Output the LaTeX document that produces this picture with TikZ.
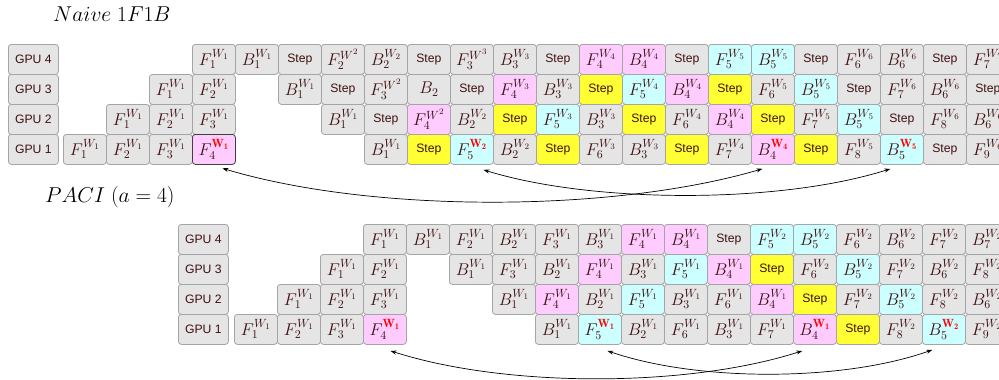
\RequirePackage{fix-cm}
\documentclass[tikz,border=0pt]{standalone}
\usepackage{fontspec}
\setsansfont{Liberation Sans}
\usetikzlibrary{arrows.meta}
\definecolor{txt}{RGB}{64,16,16}
\definecolor{cgray}{RGB}{229,229,229}
\definecolor{cbord}{RGB}{165,165,165}
\definecolor{cpink}{RGB}{255,204,255}
\definecolor{ccyan}{RGB}{204,255,255}
\definecolor{cyel}{RGB}{255,255,51}
\newcommand\mathsz{\fontsize{17}{20}\selectfont}
\newcommand\sfsz{\sffamily\fontsize{12.2}{14}\selectfont}
\newcommand\rw[1]{\textcolor{red}{\mathbf{W}_{\mathbf{#1}}}}
\newcommand\Fw[2]{$F_{#1}^{W_{#2}}$}
\newcommand\Bw[2]{$B_{#1}^{W_{#2}}$}
\newcommand\cT[4][]{\node[cell,#1] (T-#2-#3) at ({63+43*#2},{44+30*#3}) {#4};}
\newcommand\cP[4][]{\node[cell,#1] (P-#2-#3) at ({234+43*#2},{224+30*#3}) {#4};}
\tikzset{
  cell/.style={draw=cbord, fill=cgray, rounded corners=3pt, minimum width=43pt,
    minimum height=30pt, inner sep=0pt, anchor=north west, text=txt, font=\mathsz, line width=0.8pt},
  pk/.style={fill=cpink}, cy/.style={fill=ccyan}, yl/.style={fill=cyel},
  stp/.style={font=\sfsz},
  gpulab/.style={cell, minimum width=50pt, font=\sfsz},
  arr/.style={{Stealth[length=6pt,width=4pt]}-{Stealth[length=6pt,width=4pt]}, line width=0.7pt, black},
  ttl/.style={anchor=base west, inner sep=0pt, font=\fontsize{21.5}{24}\selectfont}
}
\begin{document}
\begin{tikzpicture}[x=1pt,y=-1pt]
\path[use as bounding box] (0,0) rectangle (999,380);
\clip (0,0) rectangle (999,380);
% titles
\node[ttl] (tnaive) at (53,21) {$Naive\;1F1B$};
\node[ttl] (tpaci) at (45,202) {$PACI\;(a=4)$};
% ---------- Naive ----------
\foreach \r/\g in {0/4,1/3,2/2,3/1}{\node[gpulab] (TG-\r) at (8,{44+30*\r}) {GPU \g};}
% row 0 GPU4
\cT{3}{0}{\Fw11}\cT{4}{0}{\Bw11}\cT[stp]{5}{0}{Step}
\cT{6}{0}{$F_2^{W^2}$}\cT{7}{0}{\Bw22}\cT[stp]{8}{0}{Step}
\cT{9}{0}{$F_3^{W^3}$}\cT{10}{0}{\Bw33}\cT[stp]{11}{0}{Step}
\cT[pk]{12}{0}{\Fw44}\cT[pk]{13}{0}{\Bw44}\cT[stp]{14}{0}{Step}
\cT[cy]{15}{0}{\Fw55}\cT[cy]{16}{0}{\Bw55}\cT[stp]{17}{0}{Step}
\cT{18}{0}{\Fw66}\cT{19}{0}{\Bw66}\cT[stp]{20}{0}{Step}
\cT{21}{0}{\Fw77}
% row 1 GPU3
\cT{2}{1}{\Fw11}\cT{3}{1}{\Fw21}\cT{5}{1}{\Bw11}\cT[stp]{6}{1}{Step}
\cT{7}{1}{$F_3^{W^2}$}\cT{8}{1}{$B_2$}\cT[stp]{9}{1}{Step}
\cT[pk]{10}{1}{\Fw43}\cT{11}{1}{\Bw33}\cT[stp,yl]{12}{1}{Step}
\cT[cy]{13}{1}{\Fw54}\cT[pk]{14}{1}{\Bw44}\cT[stp,yl]{15}{1}{Step}
\cT{16}{1}{\Fw65}\cT[cy]{17}{1}{\Bw55}\cT[stp]{18}{1}{Step}
\cT{19}{1}{\Fw76}\cT{20}{1}{\Bw66}\cT[stp]{21}{1}{Step}
% row 2 GPU2
\cT{1}{2}{\Fw11}\cT{2}{2}{\Fw21}\cT{3}{2}{\Fw31}
\cT{6}{2}{\Bw11}\cT[stp]{7}{2}{Step}\cT[pk]{8}{2}{$F_4^{W^2}$}\cT{9}{2}{\Bw22}
\cT[stp,yl]{10}{2}{Step}\cT[cy]{11}{2}{\Fw53}\cT{12}{2}{\Bw33}\cT[stp,yl]{13}{2}{Step}
\cT{14}{2}{\Fw64}\cT[pk]{15}{2}{\Bw44}\cT[stp,yl]{16}{2}{Step}
\cT{17}{2}{\Fw75}\cT[cy]{18}{2}{\Bw55}\cT[stp]{19}{2}{Step}
\cT{20}{2}{\Fw86}\cT{21}{2}{\Bw66}
% row 3 GPU1
\cT{0}{3}{\Fw11}\cT{1}{3}{\Fw21}\cT{2}{3}{\Fw31}
\cT[pk,draw=black!75]{3}{3}{$F_4^{\rw1}$}
\cT{7}{3}{\Bw11}\cT[stp,yl]{8}{3}{Step}\cT[cy]{9}{3}{$F_5^{\rw2}$}\cT{10}{3}{\Bw22}
\cT[stp,yl]{11}{3}{Step}\cT{12}{3}{\Fw63}\cT{13}{3}{\Bw33}\cT[stp,yl]{14}{3}{Step}
\cT{15}{3}{\Fw74}\cT[pk]{16}{3}{$B_4^{\rw4}$}\cT[stp,yl]{17}{3}{Step}
\cT{18}{3}{\Fw85}\cT[cy]{19}{3}{$B_5^{\rw5}$}\cT[stp]{20}{3}{Step}
\cT{21}{3}{\Fw96}
% ---------- PACI ----------
\foreach \r/\g in {0/4,1/3,2/2,3/1}{\node[gpulab] (PG-\r) at (178,{224+30*\r}) {GPU \g};}
% row 0
\cP{3}{0}{\Fw11}\cP{4}{0}{\Bw11}\cP{5}{0}{\Fw21}\cP{6}{0}{\Bw21}
\cP{7}{0}{\Fw31}\cP{8}{0}{\Bw31}\cP[pk]{9}{0}{\Fw41}\cP[pk]{10}{0}{\Bw41}
\cP[stp]{11}{0}{Step}\cP[cy]{12}{0}{\Fw52}\cP[cy]{13}{0}{\Bw52}
\cP{14}{0}{\Fw62}\cP{15}{0}{\Bw62}\cP{16}{0}{\Fw72}\cP{17}{0}{\Bw72}
% row 1
\cP{2}{1}{\Fw11}\cP{3}{1}{\Fw21}\cP{5}{1}{\Bw11}\cP{6}{1}{\Fw31}
\cP{7}{1}{\Bw21}\cP[pk]{8}{1}{\Fw41}\cP{9}{1}{\Bw31}\cP[cy]{10}{1}{\Fw51}
\cP[pk]{11}{1}{\Bw41}\cP[stp,yl]{12}{1}{Step}\cP{13}{1}{\Fw62}\cP[cy]{14}{1}{\Bw52}
\cP{15}{1}{\Fw72}\cP{16}{1}{\Bw62}\cP{17}{1}{\Fw82}
% row 2
\cP{1}{2}{\Fw11}\cP{2}{2}{\Fw21}\cP{3}{2}{\Fw31}
\cP{6}{2}{\Bw11}\cP[pk]{7}{2}{\Fw41}\cP{8}{2}{\Bw21}\cP[cy]{9}{2}{\Fw51}
\cP{10}{2}{\Bw31}\cP{11}{2}{\Fw61}\cP[pk]{12}{2}{\Bw41}\cP[stp,yl]{13}{2}{Step}
\cP{14}{2}{\Fw72}\cP[cy]{15}{2}{\Bw52}\cP{16}{2}{\Fw82}\cP{17}{2}{\Bw62}
% row 3
\cP{0}{3}{\Fw11}\cP{1}{3}{\Fw21}\cP{2}{3}{\Fw31}\cP[pk]{3}{3}{$F_4^{\rw1}$}
\cP{7}{3}{\Bw11}\cP[cy]{8}{3}{$F_5^{\rw1}$}\cP{9}{3}{\Bw21}\cP{10}{3}{\Fw61}
\cP{11}{3}{\Bw31}\cP{12}{3}{\Fw71}\cP[pk]{13}{3}{$B_4^{\rw1}$}\cP[stp,yl]{14}{3}{Step}
\cP{15}{3}{\Fw82}\cP[cy]{16}{3}{$B_5^{\rw2}$}\cP{17}{3}{\Fw92}
% ---------- arrows ----------
\draw[arr] ([xshift=8.5pt,yshift=-3.5pt]T-3-3.south) .. controls +(150,45) and +(-150,44) .. ([xshift=-10.5pt,yshift=-4pt]T-16-3.south);
\draw[arr] ([xshift=11.5pt,yshift=-5pt]T-9-3.south) .. controls +(110,34) and +(-110,35) .. ([xshift=-11.5pt,yshift=-4pt]T-19-3.south);
\draw[arr] ([xshift=5.5pt,yshift=-6pt]P-3-3.south) .. controls +(115,37) and +(-115,37) .. ([xshift=-12.5pt,yshift=-6pt]P-13-3.south);
\draw[arr] ([xshift=7.5pt,yshift=-6pt]P-8-3.south) .. controls +(90,31) and +(-90,32) .. ([xshift=-11.5pt,yshift=-5pt]P-16-3.south);
\end{tikzpicture}
\end{document}
